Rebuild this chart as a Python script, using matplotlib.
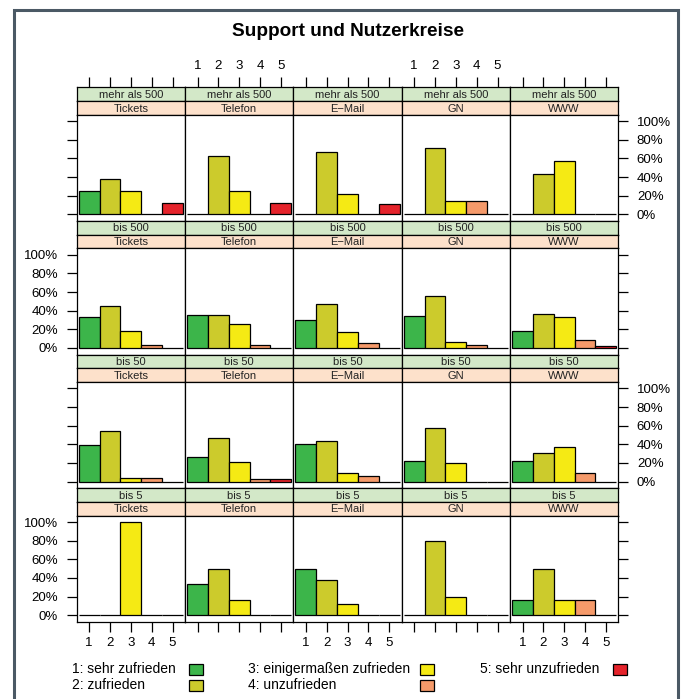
import matplotlib
matplotlib.use("Agg")
import matplotlib.pyplot as plt
from matplotlib.patches import Rectangle

plt.rcParams['font.family'] = ['Liberation Sans', 'DejaVu Sans']

# --- data: share of answers per rating (1..5), per user group and channel ---
groups = ["mehr als 500", "bis 500", "bis 50", "bis 5"]
channels = ["Tickets", "Telefon", "E\u2212Mail", "GN", "WWW"]
ratings = [1, 2, 3, 4, 5]
rating_labels = ["1: sehr zufrieden", "2: zufrieden", "3: einigermaßen zufrieden",
                 "4: unzufrieden", "5: sehr unzufrieden"]
rating_colors = ["#3cb54a", "#cccb2c", "#f5ea14", "#f59a6a", "#e5232b"]

share_mehr500 = [
    [0.25, 0.375, 0.25, 0.0, 0.125],
    [0.0, 0.625, 0.25, 0.0, 0.125],
    [0.0, 0.667, 0.222, 0.0, 0.111],
    [0.0, 0.714, 0.143, 0.143, 0.0],
    [0.0, 0.429, 0.571, 0.0, 0.0],
]
share_bis500 = [
    [0.33, 0.45, 0.18, 0.03, 0.0],
    [0.355, 0.355, 0.26, 0.03, 0.0],
    [0.30, 0.47, 0.17, 0.05, 0.0],
    [0.34, 0.56, 0.06, 0.03, 0.0],
    [0.18, 0.36, 0.33, 0.09, 0.025],
]
share_bis50 = [
    [0.39, 0.54, 0.035, 0.035, 0.0],
    [0.265, 0.47, 0.205, 0.03, 0.03],
    [0.405, 0.44, 0.095, 0.06, 0.0],
    [0.225, 0.58, 0.195, 0.0, 0.0],
    [0.22, 0.31, 0.375, 0.095, 0.0],
]
share_bis5 = [
    [0.0, 0.0, 1.0, 0.0, 0.0],
    [0.333, 0.5, 0.167, 0.0, 0.0],
    [0.5, 0.375, 0.125, 0.0, 0.0],
    [0.0, 0.8, 0.2, 0.0, 0.0],
    [0.167, 0.5, 0.167, 0.167, 0.0],
]
shares = [share_mehr500, share_bis500, share_bis50, share_bis5]

yticks = [0, 0.2, 0.4, 0.6, 0.8, 1.0]
ytick_labels = ["0%", "20%", "40%", "60%", "80%", "100%"]

# --- layout in pixels ---
W, H = 685, 699
fig = plt.figure(figsize=(W / 100, H / 100), dpi=100)


def fig_rect(x, y, w, h):
    return [x / W, 1 - (y + h) / H, w / W, h / H]


x0, col_w = 76.7, 108.33
y0, row_h = 87.3, 133.6
strip_h = 13.7
panel_h = row_h - 2 * strip_h

green_strip = "#d3e8c8"
peach_strip = "#fde1cb"
tick_kw = dict(length=7.3, width=0.9, direction="out", color="black")
fs_tick = 9.5

for r, grp in enumerate(groups):
    for c, ch in enumerate(channels):
        left = x0 + c * col_w
        top = y0 + r * row_h

        # strips
        s1 = fig.add_axes(fig_rect(left, top, col_w, strip_h))
        s2 = fig.add_axes(fig_rect(left, top + strip_h, col_w, strip_h))
        for s, col, txt in [(s1, green_strip, grp), (s2, peach_strip, ch)]:
            s.set_facecolor(col)
            s.set_xlim(0.4, 5.6)
            s.set_ylim(0, 1)
            s.set_yticks([])
            s.set_xticks([])
            for sp in s.spines.values():
                sp.set_linewidth(0.9)
            s.text(0.5, 0.45, txt, transform=s.transAxes, ha="center", va="center",
                   fontsize=8, color="#222222")

        # top axis ticks above first row
        if r == 0:
            s1.xaxis.set_ticks_position("top")
            s1.set_xticks(ratings)
            s1.tick_params(axis="x", top=True, bottom=False, pad=4, labelsize=fs_tick, **tick_kw)
            if c in (1, 3):
                s1.set_xticklabels([str(v) for v in ratings])
            else:
                s1.set_xticklabels([])

        ax = fig.add_axes(fig_rect(left, top + 2 * strip_h, col_w, panel_h))
        ax.bar(ratings, shares[r][c], width=1.0, color=rating_colors,
               edgecolor="black", linewidth=0.9)
        ax.set_xlim(0.4, 5.6)
        ax.set_ylim(-0.07, 1.07)
        for sp in ax.spines.values():
            sp.set_linewidth(0.9)

        # x axis at the bottom row only
        if r == len(groups) - 1:
            ax.set_xticks(ratings)
            ax.tick_params(axis="x", pad=4, labelsize=fs_tick, **tick_kw)
            if c in (0, 2, 4):
                ax.set_xticklabels([str(v) for v in ratings])
            else:
                ax.set_xticklabels([])
        else:
            ax.set_xticks([])

        # y axis, alternating left/right
        if c == 0:
            ax.set_yticks(yticks)
            ax.tick_params(axis="y", left=True, right=False, pad=6, labelsize=fs_tick, **tick_kw)
            ax.set_yticklabels(ytick_labels if r in (1, 3) else [])
        elif c == len(channels) - 1:
            ax.set_yticks(yticks)
            ax.yaxis.set_ticks_position("right")
            ax.tick_params(axis="y", left=False, right=True, pad=6, labelsize=fs_tick, **tick_kw)
            ax.set_yticklabels(ytick_labels if r in (0, 2) else [])
        else:
            ax.set_yticks([])

fig.text(348 / W, 1 - 32 / H, "Support und Nutzerkreise", ha="center", va="center",
         fontsize=13.7, fontweight="bold")

# --- legend: text left, colour box right ---
leg_text_x = [72, 72, 248, 248, 480]
leg_box_x = [189, 189, 420, 420, 613]
leg_y = [669, 685, 669, 685, 669]
for lab, colr, tx, bx, ty in zip(rating_labels, rating_colors, leg_text_x, leg_box_x, leg_y):
    fig.text(tx / W, 1 - ty / H, lab, ha="left", va="center", fontsize=10)
    fig.patches.append(Rectangle((bx / W, 1 - (ty + 5.5) / H), 14 / W, 11 / H,
                                 transform=fig.transFigure, facecolor=colr,
                                 edgecolor="black", linewidth=0.9))

# outer frame
fig.patches.append(Rectangle((13.5 / W, -0.02), (677.5 - 13.5) / W, 1 - 9.8 / H + 0.02,
                             transform=fig.transFigure, fill=False,
                             edgecolor="#4b5965", linewidth=2.2))

fig.savefig("out.png", dpi=100)
